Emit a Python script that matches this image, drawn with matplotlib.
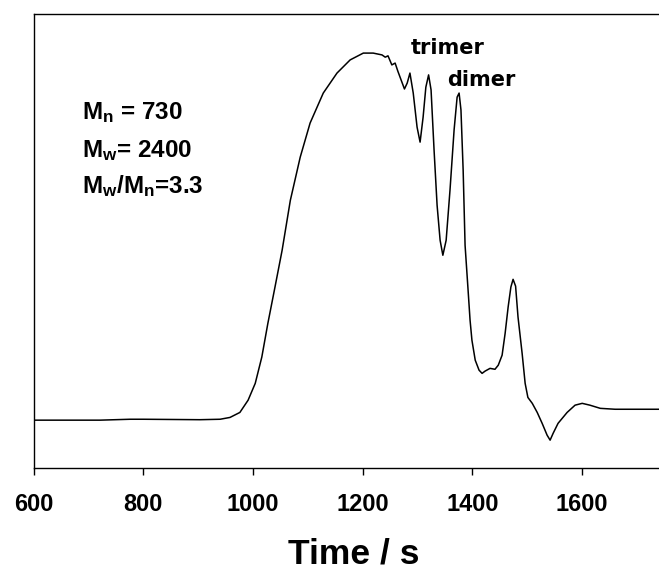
import numpy as np
import matplotlib.pyplot as plt

plt.rcParams['font.family'] = 'Liberation Sans'
plt.rcParams['mathtext.fontset'] = 'custom'
plt.rcParams['mathtext.rm'] = 'Liberation Sans:bold'
plt.rcParams['mathtext.it'] = 'Liberation Sans:bold'
plt.rcParams['mathtext.bf'] = 'Liberation Sans:bold'

# GPC trace (time in s, detector signal in arbitrary units)
time_s = [600, 721, 776, 800, 903, 940, 958, 976, 991, 1004, 1016, 1027,
          1040, 1053, 1068, 1086, 1104, 1128, 1153, 1177, 1201, 1219, 1235,
          1241, 1246, 1253, 1259, 1264, 1272, 1276, 1281, 1286, 1292, 1299,
          1304.5, 1310, 1315, 1320, 1324.5, 1330, 1335.5, 1341, 1346, 1352,
          1359, 1366.5, 1372, 1375.6, 1379, 1383, 1386.5, 1392, 1395.6, 1399,
          1405, 1412, 1417.5, 1423, 1432, 1441, 1447, 1454, 1459.5, 1465,
          1470, 1474, 1478.6, 1483, 1490.5, 1496, 1501, 1509, 1518, 1527,
          1536, 1541.5, 1547, 1556, 1572.5, 1587, 1600, 1614, 1633, 1660,
          1740]
signal = [10.6, 10.6, 10.8, 10.8, 10.7, 10.8, 11.2, 12.3, 15.0, 18.7, 24.5,
          31.9, 39.9, 48.0, 59.0, 68.5, 76.0, 82.6, 87.0, 89.9, 91.4, 91.4,
          91.0, 90.5, 90.8, 88.8, 89.2, 87.4, 84.8, 83.5, 84.8, 87.0, 82.6,
          75.1, 71.8, 77.3, 83.9, 86.6, 83.3, 70.0, 57.9, 50.2, 46.9, 50.2,
          61.2, 74.5, 81.7, 82.6, 78.9, 65.6, 49.1, 39.2, 32.6, 28.2, 23.8,
          21.6, 20.9, 21.4, 22.0, 21.8, 22.7, 24.9, 29.7, 35.5, 39.9, 41.6,
          40.1, 33.3, 25.3, 18.7, 15.6, 14.3, 12.3, 9.9, 7.3, 6.2, 7.7, 9.9,
          12.3, 13.9, 14.3, 13.9, 13.2, 13.0, 13.0]

xticks = [600, 800, 1000, 1200, 1400, 1600]
stats = [r'M$_{n}$ = 730', r'M$_{w}$= 2400', r'M$_{w}$/M$_{n}$=3.3']

fig = plt.figure(figsize=(6.59, 5.70), dpi=100)
ax = fig.add_axes([0.051, 0.1784, 0.949, 0.797])

ax.plot(time_s, signal, color='black', lw=1.1)

ax.set_xlim(600, 1740)
ax.set_ylim(0, 100)
ax.set_xticks(xticks)
ax.set_xticklabels([str(t) for t in xticks], fontsize=17, fontweight='bold')
ax.set_yticks([])
ax.tick_params(axis='x', direction='out', length=5, width=1, pad=13)
ax.spines['right'].set_visible(False)
for s in ['left', 'top', 'bottom']:
    ax.spines[s].set_linewidth(1.0)

ax.set_xlabel('Time / s', fontsize=25.5, fontweight='bold')
ax.xaxis.set_label_coords(0.512, -0.2095)
ax.xaxis.label.set_va('baseline')

for i, s in enumerate(stats):
    ax.text(0.078, [0.769, 0.685, 0.606][i], s, transform=ax.transAxes,
            fontsize=17.5, fontweight='bold', va='baseline', ha='left')

ax.text(1354, 92.5, 'trimer', fontsize=15, fontweight='bold',
        family='DejaVu Sans', ha='center', va='center')
ax.text(1416, 85.5, 'dimer', fontsize=15, fontweight='bold',
        family='DejaVu Sans', ha='center', va='center')

fig.savefig('out.png', dpi=100)
